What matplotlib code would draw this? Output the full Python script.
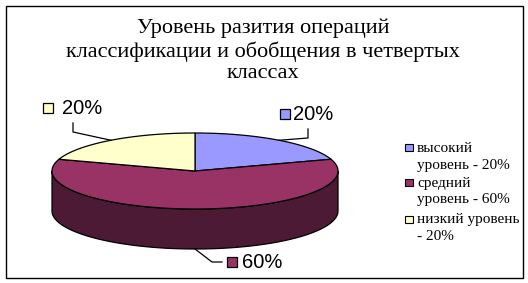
import numpy as np
import matplotlib
matplotlib.use('Agg')
import matplotlib.pyplot as plt
from matplotlib.patches import Polygon, Rectangle

# chart data
title = 'Уровень разития операций\nклассификации и обобщения в четвертых\nклассах'
categories = [('высокий', 'уровень - 20%'), ('средний', 'уровень - 60%'),
              ('низкий уровень', '- 20%')]
values = [20, 60, 20]
top_colors = ['#9999ff', '#993366', '#ffffcc']
side_colors = ['#5c5c99', '#4d1a36', '#99997a']

W, H = 528, 283
fig = plt.figure(figsize=(W / 100, H / 100), dpi=100)
ax = fig.add_axes([0, 0, 1, 1])
ax.set_xlim(0, W)
ax.set_ylim(H, 0)
ax.axis('off')

# outer frame
ax.add_patch(Rectangle((5.5, 5.5), 517, 272, fill=False, ec='black', lw=1.0))

ax.text(263, 51, title, ha='center', va='center', fontsize=16,
        family='Liberation Serif', linespacing=1.17)

# pie geometry (pixel space)
cx, cy, a, b, depth = 195, 171, 143, 38, 40


def ell(t, dy=0):
    t = np.radians(t)
    return np.column_stack([cx + a * np.cos(t), cy - b * np.sin(t) + dy])


# slices run clockwise from 12 o'clock
fracs = np.array(values) / sum(values) * 360
ends = 90 - np.cumsum(fracs)
starts = ends + fracs

# side walls: only the front half (parametric angle 180..360) is visible
for s, e, col in zip(starts, ends, side_colors):
    lo, hi = e, s
    for shift in (0, 360, -360):
        l0, h0 = max(lo + shift, 180), min(hi + shift, 360)
        if h0 > l0:
            t = np.linspace(l0, h0, 100)
            pts = np.vstack([ell(t), ell(t[::-1], depth)])
            ax.add_patch(Polygon(pts, closed=True, fc=col, ec='black', lw=0.9))

# top faces
for s, e, col in zip(starts, ends, top_colors):
    t = np.linspace(e, s, 200)
    pts = np.vstack([[cx, cy], ell(t)])
    ax.add_patch(Polygon(pts, closed=True, fc=col, ec='black', lw=0.9))

# data labels with leader lines: (knee x, knee y, key x, text x, text y)
label_pos = [(308, 129, 280, 293, 114), (222, 262, 227, 242, 262),
             (73, 123, 43, 62, 108)]
for i, (s, e) in enumerate(zip(starts, ends)):
    mid = (s + e) / 2
    p = ell(mid)[0]
    if np.sin(np.radians(mid)) < 0:
        p = ell(mid, depth)[0]
    kx, ky, sx, tx, ty = label_pos[i]
    if ky > p[1]:
        xs, ys = [p[0], kx - 10, kx], [p[1], ky, ky]
    else:
        xs, ys = [p[0], kx, kx], [p[1], ky + 9, ky]
    ax.plot(xs, ys, color='black', lw=0.9)
    ax.add_patch(Rectangle((sx, ty - 5), 10, 10, fc=top_colors[i], ec='black', lw=0.9))
    ax.text(tx, ty + 0.5, f'{values[i]}%', ha='left', va='center',
            fontsize=14.5, family='Liberation Sans')

# legend
leg_y = [148, 183, 220]
for i, (l1, l2) in enumerate(categories):
    y = leg_y[i]
    ax.add_patch(Rectangle((405, y - 4.5), 7.5, 7.5, fc=top_colors[i], ec='black', lw=0.8))
    ax.text(417, y, l1, ha='left', va='center', fontsize=11, family='Liberation Serif')
    ax.text(417, y + 17, l2, ha='left', va='center', fontsize=11, family='Liberation Serif')

fig.savefig('out.png', dpi=100)
